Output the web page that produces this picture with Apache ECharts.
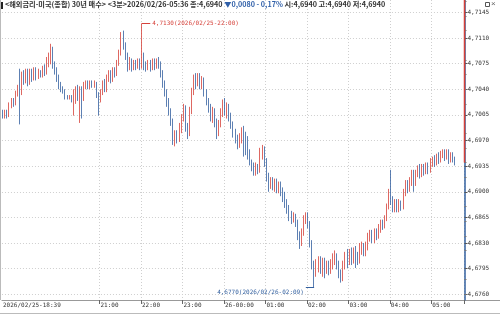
<!DOCTYPE html>
<html><head><meta charset="utf-8">
<script src="https://cdn.jsdelivr.net/npm/echarts@6/dist/echarts.min.js"></script>
<style>html,body{margin:0;padding:0;background:#fff}#c{width:500px;height:314px}</style>
</head><body><div id="c"></div>
<script>
// ---- data (3-minute bars, 2026/02/25 18:39 .. 2026/02/26 05:36) ----
const startMinute = 18 * 60 + 39;
const stepMinutes = 3;
const emptySlots = 3;
const firstLabel = '2026/02/25-18:39';
const dayLabel = '26-00:00';
const yTicks = [4.6760,4.6795,4.6830,4.6865,4.6900,4.6935,4.6970,4.7005,4.7040,4.7075,4.7110,4.7145];
const opens = [
4.7008,4.7004,4.7008,4.7004,4.7018,4.7024,4.7020,4.7034,4.7042,4.7036,
4.7058,4.7052,4.7062,4.7050,4.7062,4.7056,4.7064,4.7058,4.7062,4.7060,
4.7068,4.7064,4.7078,4.7086,4.7096,4.7074,4.7066,4.7056,4.7046,4.7040,
4.7038,4.7030,4.7028,4.7030,4.7026,4.7034,4.7042,4.7030,4.7040,4.7028,
4.7046,4.7050,4.7044,4.7050,4.7046,4.7048,4.7032,4.7026,4.7036,4.7048,
4.7040,4.7056,4.7060,4.7054,4.7066,4.7062,4.7076,4.7090,4.7106,4.7100,
4.7084,4.7070,4.7078,4.7070,4.7076,4.7072,4.7078,4.7070,4.7086,4.7074,
4.7070,4.7076,4.7070,4.7078,4.7072,4.7080,4.7074,4.7062,4.7048,4.7036,
4.7024,4.7010,4.6996,4.6970,4.6978,4.6972,4.6986,4.7000,4.7014,4.6990,
4.6980,4.7010,4.7036,4.7054,4.7048,4.7056,4.7046,4.7052,4.7036,4.7024,
4.7014,4.7004,4.7010,4.6996,4.6980,4.6994,4.7008,4.7020,4.7010,4.7016,
4.7004,4.6992,4.6980,4.6972,4.6966,4.6972,4.6984,4.6976,4.6970,4.6952,
4.6940,4.6934,4.6928,4.6934,4.6930,4.6952,4.6958,4.6940,4.6920,4.6910,
4.6914,4.6908,4.6912,4.6904,4.6908,4.6900,4.6896,4.6884,4.6878,4.6868,
4.6862,4.6866,4.6858,4.6840,4.6830,4.6846,4.6862,4.6868,4.6856,4.6830,
4.6800,4.6790,4.6800,4.6808,4.6796,4.6804,4.6796,4.6800,4.6794,4.6802,
4.6808,4.6812,4.6800,4.6788,4.6782,4.6800,4.6812,4.6806,4.6816,4.6808,
4.6818,4.6812,4.6806,4.6820,4.6826,4.6818,4.6826,4.6838,4.6842,4.6836,
4.6844,4.6840,4.6850,4.6858,4.6854,4.6864,4.6880,4.6898,4.6888,4.6878,
4.6884,4.6878,4.6884,4.6880,4.6898,4.6910,4.6904,4.6914,4.6924,4.6912,
4.6924,4.6932,4.6926,4.6934,4.6928,4.6936,4.6930,4.6940,4.6944,4.6940,
4.6948,4.6944,4.6952,4.6954,4.6948,4.6954,4.6944,4.6950,4.6944,4.6940];
const closes = [
4.7004,4.7008,4.7004,4.7018,4.7024,4.7020,4.7034,4.7042,4.7036,4.7058,
4.7052,4.7062,4.7050,4.7062,4.7056,4.7064,4.7058,4.7062,4.7060,4.7068,
4.7064,4.7078,4.7086,4.7096,4.7074,4.7066,4.7056,4.7046,4.7040,4.7038,
4.7030,4.7028,4.7030,4.7026,4.7034,4.7042,4.7030,4.7040,4.7028,4.7046,
4.7050,4.7044,4.7050,4.7046,4.7048,4.7032,4.7026,4.7036,4.7048,4.7040,
4.7056,4.7060,4.7054,4.7066,4.7062,4.7076,4.7090,4.7106,4.7100,4.7084,
4.7070,4.7078,4.7070,4.7076,4.7072,4.7078,4.7070,4.7086,4.7074,4.7070,
4.7076,4.7070,4.7078,4.7072,4.7080,4.7074,4.7062,4.7048,4.7036,4.7024,
4.7010,4.6996,4.6970,4.6978,4.6972,4.6986,4.7000,4.7014,4.6990,4.6980,
4.7010,4.7036,4.7054,4.7048,4.7056,4.7046,4.7052,4.7036,4.7024,4.7014,
4.7004,4.7010,4.6996,4.6980,4.6994,4.7008,4.7020,4.7010,4.7016,4.7004,
4.6992,4.6980,4.6972,4.6966,4.6972,4.6984,4.6976,4.6970,4.6952,4.6940,
4.6934,4.6928,4.6934,4.6930,4.6952,4.6958,4.6940,4.6920,4.6910,4.6914,
4.6908,4.6912,4.6904,4.6908,4.6900,4.6896,4.6884,4.6878,4.6868,4.6862,
4.6866,4.6858,4.6840,4.6830,4.6846,4.6862,4.6868,4.6856,4.6830,4.6800,
4.6790,4.6800,4.6808,4.6796,4.6804,4.6796,4.6800,4.6794,4.6802,4.6808,
4.6812,4.6800,4.6788,4.6782,4.6800,4.6812,4.6806,4.6816,4.6808,4.6818,
4.6812,4.6806,4.6820,4.6826,4.6818,4.6826,4.6838,4.6842,4.6836,4.6844,
4.6840,4.6850,4.6858,4.6854,4.6864,4.6880,4.6898,4.6888,4.6878,4.6884,
4.6878,4.6884,4.6880,4.6898,4.6910,4.6904,4.6914,4.6924,4.6912,4.6924,
4.6932,4.6926,4.6934,4.6928,4.6936,4.6930,4.6940,4.6944,4.6940,4.6948,
4.6944,4.6952,4.6954,4.6948,4.6954,4.6944,4.6950,4.6944,4.6940,4.6940];
const lows = [
4.7000,4.7000,4.7000,4.7002,4.7014,4.7016,4.7018,4.7030,4.6992,4.7032,
4.7046,4.7048,4.7044,4.7046,4.7050,4.7052,4.7052,4.7054,4.7056,4.7056,
4.7058,4.7060,4.7070,4.7074,4.7068,4.7060,4.7050,4.7040,4.7036,4.7034,
4.7026,4.7026,4.7026,4.7022,4.7004,4.7020,4.7024,4.6994,4.7000,4.7024,
4.7040,4.7040,4.7040,4.7042,4.7042,4.7028,4.7004,4.7022,4.7032,4.7036,
4.7036,4.7050,4.7048,4.7050,4.7056,4.7058,4.7072,4.7086,4.7094,4.7080,
4.7064,4.7066,4.7064,4.7066,4.7066,4.7068,4.7066,4.7068,4.7066,4.7064,
4.7066,4.7064,4.7066,4.7066,4.7068,4.7068,4.7056,4.7042,4.7030,4.7016,
4.7004,4.6990,4.6964,4.6962,4.6966,4.6968,4.6980,4.6996,4.6982,4.6972,
4.6976,4.7006,4.7032,4.7040,4.7044,4.7040,4.7040,4.7030,4.7018,4.7008,
4.6996,4.6994,4.6988,4.6972,4.6976,4.6988,4.7002,4.7004,4.7000,4.6996,
4.6986,4.6974,4.6966,4.6958,4.6960,4.6966,4.6948,4.6950,4.6944,4.6936,
4.6928,4.6922,4.6922,4.6924,4.6926,4.6944,4.6934,4.6914,4.6900,4.6904,
4.6902,4.6900,4.6898,4.6898,4.6894,4.6886,4.6878,4.6870,4.6860,4.6856,
4.6858,4.6852,4.6834,4.6822,4.6826,4.6840,4.6856,4.6850,4.6824,4.6794,
4.6770,4.6784,4.6790,4.6788,4.6784,4.6782,4.6788,4.6786,4.6788,4.6794,
4.6800,4.6794,4.6782,4.6776,4.6778,4.6794,4.6796,4.6800,4.6800,4.6802,
4.6796,4.6800,4.6802,4.6814,4.6812,4.6812,4.6820,4.6832,4.6830,4.6830,
4.6834,4.6836,4.6844,4.6848,4.6850,4.6860,4.6876,4.6882,4.6872,4.6872,
4.6872,4.6872,4.6874,4.6876,4.6894,4.6898,4.6900,4.6908,4.6900,4.6908,
4.6920,4.6918,4.6920,4.6922,4.6924,4.6924,4.6926,4.6934,4.6934,4.6936,
4.6938,4.6940,4.6946,4.6942,4.6944,4.6938,4.6940,4.6940,4.6936,4.6940];
const highs = [
4.7012,4.7012,4.7012,4.7022,4.7028,4.7028,4.7038,4.7046,4.7068,4.7064,
4.7066,4.7068,4.7068,4.7068,4.7068,4.7070,4.7070,4.7068,4.7066,4.7072,
4.7074,4.7084,4.7090,4.7102,4.7098,4.7078,4.7070,4.7060,4.7050,4.7044,
4.7040,4.7032,4.7032,4.7032,4.7040,4.7044,4.7046,4.7044,4.7044,4.7050,
4.7052,4.7052,4.7052,4.7052,4.7052,4.7050,4.7036,4.7040,4.7052,4.7054,
4.7060,4.7066,4.7066,4.7070,4.7070,4.7080,4.7094,4.7118,4.7120,4.7104,
4.7090,4.7084,4.7082,4.7080,4.7080,4.7082,4.7082,4.7130,4.7090,4.7078,
4.7080,4.7080,4.7082,4.7082,4.7082,4.7084,4.7078,4.7066,4.7052,4.7040,
4.7028,4.7014,4.7000,4.6984,4.6984,4.6994,4.7006,4.7020,4.7018,4.6994,
4.7016,4.7042,4.7060,4.7062,4.7062,4.7062,4.7058,4.7056,4.7040,4.7028,
4.7020,4.7016,4.7014,4.7000,4.6998,4.7014,4.7026,4.7028,4.7022,4.7020,
4.7008,4.6996,4.6986,4.6978,4.6980,4.6988,4.6990,4.6982,4.6976,4.6958,
4.6944,4.6940,4.6940,4.6938,4.6960,4.6964,4.6962,4.6946,4.6926,4.6920,
4.6920,4.6918,4.6918,4.6914,4.6914,4.6906,4.6900,4.6890,4.6882,4.6874,
4.6872,4.6870,4.6862,4.6846,4.6850,4.6868,4.6872,4.6872,4.6860,4.6834,
4.6806,4.6808,4.6812,4.6812,4.6810,4.6810,4.6806,4.6806,4.6808,4.6816,
4.6820,4.6816,4.6806,4.6794,4.6806,4.6818,4.6822,4.6822,4.6824,4.6824,
4.6826,4.6818,4.6830,4.6832,4.6830,4.6832,4.6844,4.6848,4.6848,4.6850,
4.6850,4.6856,4.6862,4.6862,4.6868,4.6884,4.6904,4.6930,4.6894,4.6890,
4.6890,4.6890,4.6888,4.6904,4.6916,4.6916,4.6920,4.6930,4.6930,4.6930,
4.6936,4.6938,4.6938,4.6938,4.6940,4.6940,4.6946,4.6948,4.6950,4.6952,
4.6954,4.6956,4.6958,4.6958,4.6958,4.6958,4.6954,4.6954,4.6948,4.6940];
const highLabel = '4,7130(2026/02/25-22:00)';
const lowLabel = '4,6770(2026/02/26-02:09)';
const tagLabel = '4,6940\n- 0,17%';

// ---- build ----
const pad2 = n => (n < 10 ? '0' : '') + n;
const times = [];
for (let k = 0; k < closes.length + emptySlots; k++) {
  const m = (startMinute + k * stepMinutes) % 1440;
  times.push(pad2(Math.floor(m / 60)) + ':' + pad2(m % 60));
}
const ohlc = closes.map((c, i) => [opens[i], c, lows[i], highs[i]]);
for (let k = 0; k < emptySlots; k++) ohlc.push('-');
let hiIdx = 0, loIdx = 0;
highs.forEach((v, i) => { if (v > highs[hiIdx]) hiIdx = i; });
lows.forEach((v, i) => { if (v < lows[loIdx]) loIdx = i; });
const lastClose = closes[closes.length - 1];
const fmt = v => v.toFixed(4).replace('.', ',');
// hour marks that do not collide with the long first label
const isHourMark = (i, v) => v.slice(3) === '00' && i > 30;

const RED = '#d6413a', BLUE = '#33609f';
const MONO = 'DejaVu Sans Mono';
const gridRight = 35.5;

const chart = echarts.init(document.getElementById('c'), null, {renderer: 'canvas'});
chart.setOption({
  animation: false,
  backgroundColor: '#fff',
  title: {
    left: 5, top: 1, padding: 0,
    text: '{a|<해외금리-미국(종합) 30년 매수> <3분>2026/02/26-05:36 종:4,6940 }{b|▼0,0080 - 0,17%}{a| 시:4,6940 고:4,6940 저:4,6940}',
    textStyle: {
      rich: {
        a: {fontSize: 7.2, fontFamily: 'Noto Sans CJK KR', color: '#333'},
        b: {fontSize: 7.2, fontFamily: 'Noto Sans CJK KR', color: '#2f5fa8'}
      }
    }
  },
  grid: {left: 0, right: gridRight, top: 0, bottom: 14, containLabel: false},
  xAxis: {
    type: 'category', data: times, boundaryGap: true,
    axisLine: {show: true, lineStyle: {color: '#999', width: 1}},
    axisTick: {show: true, interval: isHourMark, length: 4, lineStyle: {color: '#666'}},
    axisLabel: {
      interval: (i, v) => i === 0 || isHourMark(i, v),
      showMinLabel: true,
      formatter: (v, i) => i === 0 ? firstLabel : (v === '00:00' ? dayLabel : v),
      align: 'left', fontSize: 6, fontFamily: MONO, color: '#333', margin: 2
    },
    splitLine: {show: true, interval: isHourMark, lineStyle: {color: '#cfcfcf', type: [1, 2]}}
  },
  yAxis: {
    type: 'value', position: 'right', min: 4.67523, max: 4.71618,
    axisLine: {show: true, lineStyle: {color: BLUE, width: 1.5}},
    axisTick: {show: true, customValues: yTicks, length: 3, lineStyle: {color: '#555'}},
    minorTick: {show: true, splitNumber: 5, length: 2, lineStyle: {color: '#777'}},
    axisLabel: {customValues: yTicks, formatter: v => fmt(v), fontSize: 6, fontFamily: MONO, color: '#333', margin: 3},
    splitLine: {show: true, lineStyle: {color: '#cfcfcf', type: [1, 2]}}
  },
  series: [{
    type: 'candlestick', data: ohlc, barWidth: 1.3,
    itemStyle: {color: RED, color0: BLUE, borderColor: RED, borderColor0: BLUE, borderWidth: 0.8},
    markLine: {
      symbol: 'none', silent: true, animation: false,
      data: [
        [{coord: [hiIdx, highs[hiIdx]], lineStyle: {color: RED, width: 1, type: 'solid'},
          label: {show: true, position: 'end', formatter: highLabel, color: RED, fontSize: 6, fontFamily: MONO, distance: 2}},
         {coord: [hiIdx + 4, highs[hiIdx]]}],
        [{coord: [loIdx, lows[loIdx]], lineStyle: {color: BLUE, width: 1, type: 'solid'},
          label: {show: true, position: 'end', formatter: '\n' + lowLabel, lineHeight: 10, color: BLUE, fontSize: 6, fontFamily: MONO, distance: 2}},
         {coord: [loIdx - 4, lows[loIdx]]}],
        [{yAxis: lastClose, x: 464, lineStyle: {opacity: 0},
          label: {show: true, position: 'end', formatter: tagLabel, color: '#fff', backgroundColor: BLUE,
                  fontSize: 6, fontFamily: MONO, lineHeight: 8, padding: [1, 5, 1, 4], distance: 0, align: 'left'}},
         {yAxis: lastClose, x: 466}]
      ]
    }
  }]
});

const yCur = chart.convertToPixel({yAxisIndex: 0}, lastClose);
const axX = 500 - gridRight;
chart.setOption({
  graphic: [
    {type: 'rect', shape: {x: 1, y: 2, width: 2, height: 7}, style: {fill: '#222'}},
    {type: 'rect', shape: {x: 485.5, y: 2.5, width: 4, height: 4}, style: {fill: '#fff', stroke: '#555', lineWidth: 1}},
    {type: 'text', x: 491, y: 0, style: {text: '×', fontSize: 8, fill: '#666'}},
    {type: 'line', shape: {x1: 0.5, y1: 0, x2: 0.5, y2: 300}, style: {stroke: '#bbb', lineWidth: 1}},
    {type: 'line', shape: {x1: axX, y1: 300.5, x2: 500, y2: 300.5}, style: {stroke: '#999', lineWidth: 1}},
    {type: 'line', shape: {x1: 0, y1: 313.5, x2: 500, y2: 313.5}, style: {stroke: '#bbb', lineWidth: 1}},
    {type: 'line', z: 10, shape: {x1: axX, y1: 0, x2: axX, y2: yCur}, style: {stroke: RED, lineWidth: 1.5}}
  ]
});
</script></body></html>
